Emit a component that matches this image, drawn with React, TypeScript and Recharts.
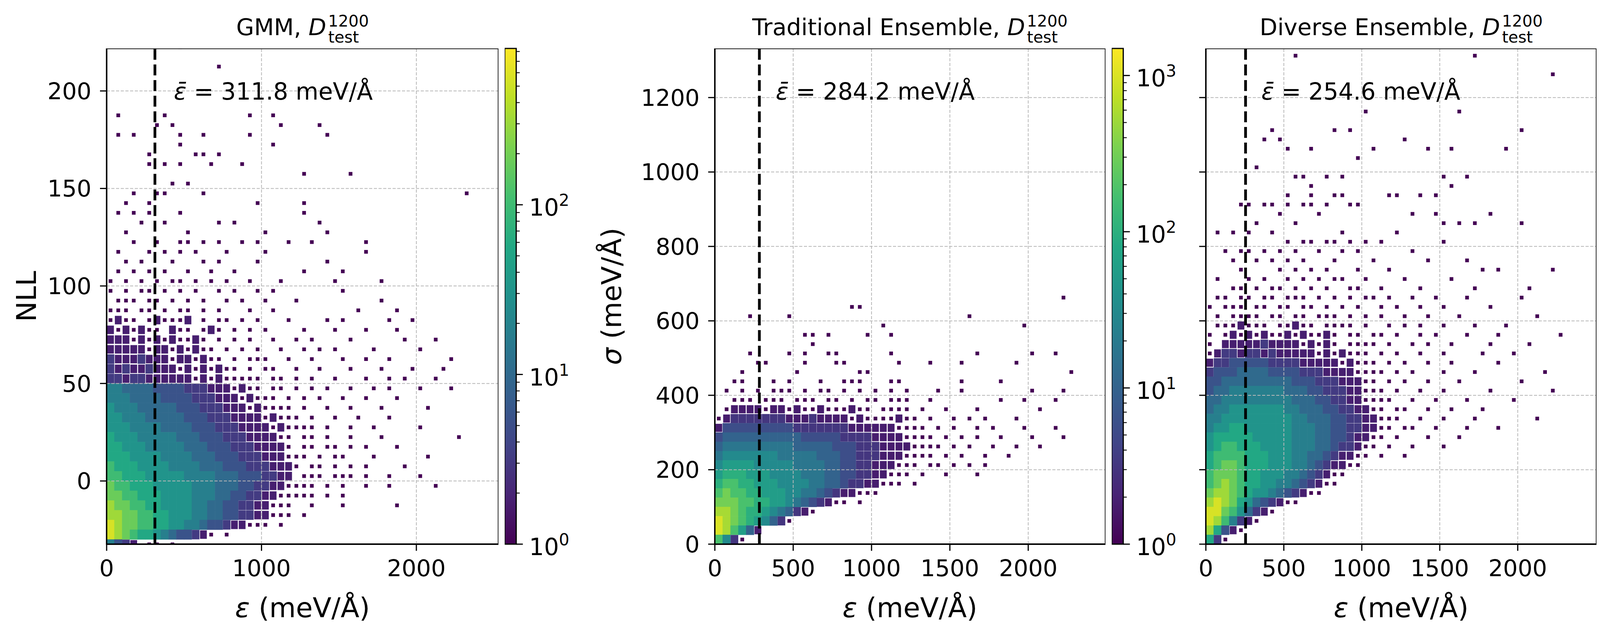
import React from "react";
import { ScatterChart, Scatter, XAxis, YAxis, ReferenceArea, ReferenceLine } from "recharts";

const FONT = "'DejaVu Sans', sans-serif";

// colour codes: '.' = empty bin, '1' = 1 count,
// every next code is +0.25 in log10(count)
const LEVEL_CODES = "123456789ABCDE";

const gmmXTicks = [0, 1000, 2000];
const gmmYTicks = [0, 50, 100, 150, 200];
const ensXTicks = [0, 500, 1000, 1500, 2000];
const ensYTicks = [0, 200, 400, 600, 800, 1000, 1200];

const panelTitles = ["GMM", "Traditional Ensemble", "Diverse Ensemble"];
const meanErrors = [311.8, 284.2, 254.6];
const colorbarMax = [834, 1490, 834];
const cbMajorTicks = [1, 10, 100, 1000];
const cbMinorTicks = [2, 3, 4, 5, 6, 7, 8, 9, 20, 30, 40, 50, 60, 70, 80, 90, 200, 300, 400, 500, 600, 700, 800, 900];

// GMM: bins of 50 meV/Å x 5 NLL, first row is NLL 220..225, last row -35..-30
const gmmRows = [
  ".........1",
  "",
  ".......... ....1",
  "",
  "",
  "",
  "",
  ".1.....1.. ........1. .1",
  "......1.1. .......... ..1....1",
  ".1.1.....1 ..1.....1. ........1",
  ".........1 .......... .1",
  ".....1.... .11.1",
  ".....1.1.1 ...1...1",
  ".......... .......... .....1.... .1",
  "........1. 1",
  "...1..11.. ..1....... .......... .......... ......1",
  "..1..1.... .........1 .....1",
  ".1.1.1...1 .......... .....1",
  "....1..1.. ....1.1... .......1",
  "..1....... 1......... 1.......1",
  "...1..1..1 1.1.1..1.1 ...1..1... ...1",
  ".1...1.1.1 .1...1.... 1......... ...1",
  "..1.1...1. ..1.1....1 ........1",
  ".1.1.1.1.. 1..1..1... .....1.... 1",
  "1.1.1.1.11 .1.1.1..1. ..1......1 .....1",
  "1.1.11.1.1 .1..1.1..1 .1........ 1",
  ".111.11.1. 1.1..1.1.. 1...1..... .....1",
  "111.11.1.1 1.1.1...1. .1........ ..1....1",
  "1211.12111 2.1.11.1.1 ...1....1. 1.....1..1",
  "2121211.21 1.121.1.1. 1....1...1 ...1...1",
  "2221212121 121.1.1.1. .1..1.1... .1......1. ..1",
  "2222212212 1211.1.1.1 ..1..1.1.1 ....1..... 1",
  "3222322212 21211.1.11 1..1..1... 1..1..1... ....1",
  "3232232221 2121211.1. 11..1..1.. .1...1...1 ...1",
  "3323322222 2121211111 .11.1.1..1 ...1..1.1. ..1",
  "6655554444 3332221211 .11.1.1.1. .1..1.1... 1...1",
  "6665555444 4333222121 11.1.1.1.. 1..1...1",
  "7666555554 4433322212 1111.1..1. .1...1.... .1",
  "7766655555 4443332222 12111.1..1 ..1...1",
  "7776666555 5444333222 2121111.1. .1..1..... 1",
  "8777666665 5544433322 2211.11.1. .1...1.... .....1",
  "8877766666 5554443332 2221.11.11 .1.1...1",
  "8887777666 6555444333 222111.1.1 1...1..... .1",
  "9888777766 6655544433 32221.11.1 .1.1....1",
  "9988877777 6666555444 3322.111.1 11.1..1... 1",
  "A998887777 7666555443 3221111.1. 1..1..1... ..1",
  "AA99888777 7666554433 2211111.1. 1",
  "BAA9988777 7665544332 2111..1... 1......1",
  "BBAA998877 7665544332 2111.1",
  "CBAA998877 6654432211 1.1",
  "CBA9887654 4321.1",
  "6432.11.1",
];

// Traditional ensemble: bins of 50 x 25 meV/Å, first row is sigma 1325..1350, last row 0..25
const tradRows = [
  "", "", "", "", "", "", "", "", "", "",
  "", "", "", "", "", "", "", "", "", "",
  "", "", "", "", "", "", "",
  ".......... .......... .......... .......... ....1",
  ".......... .......11",
  "....1....1 .......... .......... ..1",
  ".......... .......... .1........ .........1",
  ".......... .11.1....1 ..1",
  ".......... ..1",
  "....1....1 .1..11.... ..1....... ...1...... 1..1",
  ".....11... .1...11... ...1...1.. .1......1.",
  "...1...... 1.......11 .......... .......... .....1",
  "..11...1.1 ...1..111. ..11...... .1....1",
  ".1.1.1.111 .1.11.1.1. 1.1.1...1. .1........ 1...1",
  "..111.111. 111.11.1.1 1.111..1.. ......1..1 ...1",
  ".122221221 2112111211 .1111.1..1 ...1...... .1",
  "1233333332 2232222121 111211.1.. 1.1.1...1.",
  "2444444444 3333333222 2221111.1. 1..1.1...1 ...1",
  "4555555555 5444443333 22221111.1 .1.1..1... 1...1",
  "5666666666 5555544433 322221111. 1.1..1..1. .1",
  "6777777766 6665554433 32221111.1 .1..1..1",
  "7888877777 6666554433 222111.11. 1.1.1",
  "8999888777 7666554433 22111.1..1 ...1",
  "9AA9988877 7766554332 2111.1",
  "ABAA998887 7665432211 1",
  "BBBAA99887 6543211.1.",
  "CCBA998765 321",
  "DCBA987531",
  "DCA852",
  "A731",
];

// Diverse ensemble: same bins as the traditional ensemble
const divRows = [
  "",
  ".......... .1........ .......... ....1",
  "",
  ".......... .......... .......... .......... ....1",
  "",
  "",
  "",
  ".......... .......... 1......... ..1",
  "",
  "........1. ......1.1. .......... .......... 1",
  ".......1.1 .......... .....1",
  ".......... 1..1...... .1......1. .1......1",
  ".......... .........1",
  "......1",
  ".......... .11..1.1.. .......... 1..1",
  ".......... ...1...... .......... .1",
  ".......... 1..1..11.. ...11..1.1",
  "....11.11. 1.11.1..11",
  ".........1 ....1..... ......1..1 ......1",
  "......1... .1........ .......... 1.1.1..... 1",
  ".1.1.1..1. .......1.. ....1",
  ".......... 1.11.11.1. 1.1....... 1",
  "..1.11.1.1 .1..1..1.1 ......1",
  "...1..1.1. 1.1...1... .1......1. ...1",
  "....1....1 .1.1.1...1 ...1...... .....1.1.. ....1",
  ".1...1.1.. 1.1.1.11.. 1....1.... .1",
  "...11.1.11 .1.1.1..11 ..1....1.. ....1..... .1",
  ".11.11.11. 111.1.1.1. 11.1..1..1 ...1...... 1",
  "1.111.11.1 1.11.1.1.1 ..1.1..1.. 1.....1",
  ".1.1111.11 .11.111.1. 1.1..1..1. ..1....... ..1",
  ".1112111.1 1211.1111. 1..1.1.1.. 1...1...1",
  "1.12121211 2121121.11 .11.1..1.1 ...1...1.. .....1",
  "1.22222322 2212121.11 11.1..1.1. .1....1... .1",
  "1233233232 2222121211 1.1.1..1.. 1....1...1",
  "2334444433 3322222121 11.1.1..1. .1.....1",
  "3444555544 4433322221 111.1.1... 1...1..... ...1",
  "4455555555 5444333222 11.1.1..1. ..1....... 1",
  "4556666666 5554433322 111.1..1.. 1.....1... ....1",
  "5566666666 6555443322 1111..1..1 ...1.....1",
  "5667777777 6655544332 211.11..1. .1...1",
  "6677777777 7665554433 22111..1.. 1...1..... ..1",
  "6778877777 7666554433 2211.11..1 ...1...1",
  "7888887777 7666554432 211.1...1. ..1",
  "7899888777 7666554332 11.1..1... 1",
  "8999988877 7665543221 1.1..1",
  "89AA988877 7665432211",
  "9AAA988777 66543211",
  "9ABA988776 6543211",
  "ABBA987765 43211",
  "BCBA875432 11",
  "CCA975321",
  "CB96321",
  "B8421",
  "831",
];

const VIRIDIS = [
  "#440154", "#482475", "#414487", "#355f8d", "#2a788e", "#21918c",
  "#22a884", "#44bf70", "#7ad151", "#bddf26", "#fde725",
];

function hexToRgb(h: string) {
  const n = parseInt(h.slice(1), 16);
  return [n >> 16, (n >> 8) & 255, n & 255];
}

function viridis(t: number) {
  const s = Math.min(1, Math.max(0, t)) * 10;
  const i = Math.min(9, Math.floor(s));
  const f = s - i;
  const a = hexToRgb(VIRIDIS[i]);
  const b = hexToRgb(VIRIDIS[i + 1]);
  const c = a.map((v, k) => Math.round(v + (b[k] - v) * f));
  return `rgb(${c[0]},${c[1]},${c[2]})`;
}

type Cell = { x: number; y: number; fill: string; level: number };

function toCells(rows: string[], binW: number, binH: number, yTop: number, vmax: number): Cell[] {
  const logMax = Math.log10(vmax);
  const out: Cell[] = [];
  rows.forEach((row, k) => {
    const chars = row.replace(/ /g, "");
    for (let c = 0; c < chars.length; c++) {
      const idx = LEVEL_CODES.indexOf(chars[c]);
      if (idx < 0) continue;
      out.push({
        x: c * binW + binW / 2,
        y: yTop - k * binH - binH / 2,
        fill: viridis((idx * 0.25) / logMax),
        level: idx,
      });
    }
  });
  return out;
}

const PLOT_TOP = 124;
const PLOT_H = 1269;

const panels = [
  {
    plotLeft: 273, plotW: 1003, xMax: 2530, yDomain: [-32.4, 221.8],
    xTicks: gmmXTicks, yTicks: gmmYTicks, binW: 50, binH: 5,
    cells: toCells(gmmRows, 50, 5, 225, colorbarMax[0]),
    showY: true, cbLeft: 1292, noteX: 445,
  },
  {
    plotLeft: 1829.5, plotW: 1000, xMax: 2493, yDomain: [0, 1332],
    xTicks: ensXTicks, yTicks: ensYTicks, binW: 50, binH: 25,
    cells: toCells(tradRows, 50, 25, 1350, colorbarMax[1]),
    showY: true, cbLeft: 2845.5, noteX: 1986,
  },
  {
    plotLeft: 3087, plotW: 1000, xMax: 2505, yDomain: [0, 1332],
    xTicks: ensXTicks, yTicks: ensYTicks, binW: 50, binH: 25,
    cells: toCells(divRows, 50, 25, 1350, colorbarMax[2]),
    showY: false, cbLeft: 4103, noteX: 3229,
  },
];

const tickStyle = { fontSize: 59, fill: "#000", fontFamily: FONT };

// sparse bins only partly cover a coarse cell: side factor per colour code
const COVER = [0, 0.85, 0.95];

function HeatPanel({ p, mean }: { p: any; mean: number }) {
  const YW = 200;
  const XH = 110;
  const cellW = (p.binW * p.plotW) / p.xMax + 0.6;
  const cellH = (p.binH * PLOT_H) / (p.yDomain[1] - p.yDomain[0]) + 0.6;
  const gridX = p.xTicks.filter((v: number) => v > 0);
  const gridY = p.yTicks.filter((v: number) => v > p.yDomain[0]);
  return (
    <div style={{ position: "absolute", left: p.plotLeft - YW, top: PLOT_TOP }}>
      <ScatterChart width={YW + p.plotW} height={PLOT_H + XH} margin={{ top: 0, right: 0, bottom: 0, left: 0 }}>
        <XAxis
          type="number"
          dataKey="x"
          domain={[0, p.xMax]}
          ticks={p.xTicks}
          interval={0}
          allowDataOverflow
          height={XH}
          tickSize={17}
          tickMargin={23}
          axisLine={{ stroke: "#000", strokeWidth: 3.3 }}
          tickLine={{ stroke: "#000", strokeWidth: 3 }}
          tick={tickStyle}
        />
        <YAxis
          type="number"
          dataKey="y"
          domain={p.yDomain}
          ticks={p.yTicks}
          interval={0}
          allowDataOverflow
          width={YW}
          tickSize={17}
          tickMargin={22}
          axisLine={{ stroke: "#000", strokeWidth: 3.3 }}
          tickLine={{ stroke: "#000", strokeWidth: 3 }}
          tick={p.showY ? tickStyle : () => <g />}
        />
        <Scatter
          data={p.cells}
          isAnimationActive={false}
          shape={(s: any) => {
            const lv = s.payload.level;
            let w = cellW;
            let h = cellH;
            if (lv === 0) {
              // a single sample: native histogram bin size
              w = 9.5;
              h = 9.5;
            } else if (lv < COVER.length) {
              w = cellW * COVER[lv];
              h = cellH * COVER[lv];
            }
            return <rect x={s.cx - w / 2} y={s.cy - h / 2} width={w} height={h} fill={s.payload.fill} />;
          }}
        />
        {gridX.map((v: number) => (
          <ReferenceLine key={"gx" + v} x={v} stroke="#b8b8b8" strokeWidth={2} strokeDasharray="8 4" zIndex={700} />
        ))}
        {gridY.map((v: number) => (
          <ReferenceLine key={"gy" + v} y={v} stroke="#b8b8b8" strokeWidth={2} strokeDasharray="8 4" zIndex={700} />
        ))}
        <ReferenceLine x={mean} stroke="#000" strokeWidth={7} strokeDasharray="28 12" zIndex={800} />
        <ReferenceArea
          x1={0}
          x2={p.xMax}
          y1={p.yDomain[0]}
          y2={p.yDomain[1]}
          fill="none"
          stroke="#000"
          strokeWidth={3.3}
          ifOverflow="visible"
          zIndex={900}
        />
      </ScatterChart>
    </div>
  );
}

function ColorbarTick(props: any) {
  const { x, y, payload } = props;
  const v = payload.value;
  const exp = Math.round(Math.log10(v));
  const major = Math.abs(v - Math.pow(10, exp)) < 1e-6;
  return (
    <g>
      <line x1={x} x2={x + (major ? 17 : 9)} y1={y} y2={y} stroke="#000" strokeWidth={major ? 3 : 2.2} />
      {major && (
        <text x={x + 33} y={y + 28} fontSize={60} fontFamily={FONT} fill="#000">
          10
          <tspan fontSize={42} dy={-25}>
            {exp}
          </tspan>
        </text>
      )}
    </g>
  );
}

function Colorbar({ left, vmax }: { left: number; vmax: number }) {
  const W = 29.5;
  const AW = 165;
  const PAD = 80;
  const ticks = [...cbMajorTicks, ...cbMinorTicks].filter((v) => v <= vmax);
  return (
    <div style={{ position: "absolute", left, top: PLOT_TOP - PAD }}>
      <ScatterChart width={W + AW} height={PLOT_H + 2 * PAD} margin={{ top: PAD, right: 0, bottom: PAD, left: 0 }}>
        <XAxis type="number" dataKey="x" domain={[0, 1]} hide />
        <YAxis
          type="number"
          dataKey="y"
          scale="log"
          domain={[1, vmax]}
          allowDataOverflow
          orientation="right"
          width={AW}
          ticks={ticks}
          interval={0}
          tickSize={0}
          tickMargin={0}
          axisLine={false}
          tickLine={false}
          tick={(tp: any) => <ColorbarTick {...tp} />}
        />
        <Scatter data={[{ x: 0.5, y: 1 }]} isAnimationActive={false} shape={() => <g />} />
        <ReferenceArea
          x1={0}
          x2={1}
          y1={1}
          y2={vmax}
          fill="url(#viridisBar)"
          fillOpacity={1}
          stroke="#000"
          strokeWidth={3}
          ifOverflow="visible"
        />
      </ScatterChart>
    </div>
  );
}

export default function App() {
  return (
    <div style={{ position: "absolute", left: 0, top: 0, width: 4310, height: 1623, background: "#fff", overflow: "hidden" }}>
      <svg width={0} height={0} style={{ position: "absolute" }}>
        <defs>
          <linearGradient id="viridisBar" x1="0" y1="1" x2="0" y2="0">
            {VIRIDIS.map((c, i) => (
              <stop key={i} offset={i / 10} stopColor={c} />
            ))}
          </linearGradient>
        </defs>
      </svg>
      {panels.map((p, i) => (
        <HeatPanel key={"p" + i} p={p} mean={meanErrors[i]} />
      ))}
      {panels.map((p, i) => (
        <Colorbar key={"cb" + i} left={p.cbLeft} vmax={colorbarMax[i]} />
      ))}
      <svg
        width={4310}
        height={1623}
        style={{ position: "absolute", left: 0, top: 0, pointerEvents: "none" }}
        fontFamily={FONT}
        fill="#000"
      >
        {panels.map((p, i) => {
          const cx = p.plotLeft + p.plotW / 2;
          return (
            <g key={"t" + i}>
              <text x={cx} y={90} textAnchor="middle" fontSize={59}>
                {`${panelTitles[i]}, `}
                <tspan fontStyle="italic">D</tspan>
                <tspan fontSize={41} dx={5} dy={19}>test</tspan>
                <tspan fontSize={41} dx={-79} dy={-41}>1200</tspan>
              </text>
              <text x={p.noteX} y={255} fontSize={60}>
                <tspan fontStyle="italic">{"\u03b5\u0304"}</tspan>
                {` = ${meanErrors[i].toFixed(1)} meV/Å`}
              </text>
              <text x={cx} y={1580} textAnchor="middle" fontSize={70}>
                <tspan fontStyle="italic">ε</tspan>
                {" (meV/Å)"}
              </text>
            </g>
          );
        })}
        <text x={92} y={758.5} textAnchor="middle" fontSize={70} transform="rotate(-90 92 758.5)">
          NLL
        </text>
        <text x={1590} y={758.5} textAnchor="middle" fontSize={70} transform="rotate(-90 1590 758.5)">
          <tspan fontStyle="italic">σ</tspan>
          {" (meV/Å)"}
        </text>
      </svg>
    </div>
  );
}
